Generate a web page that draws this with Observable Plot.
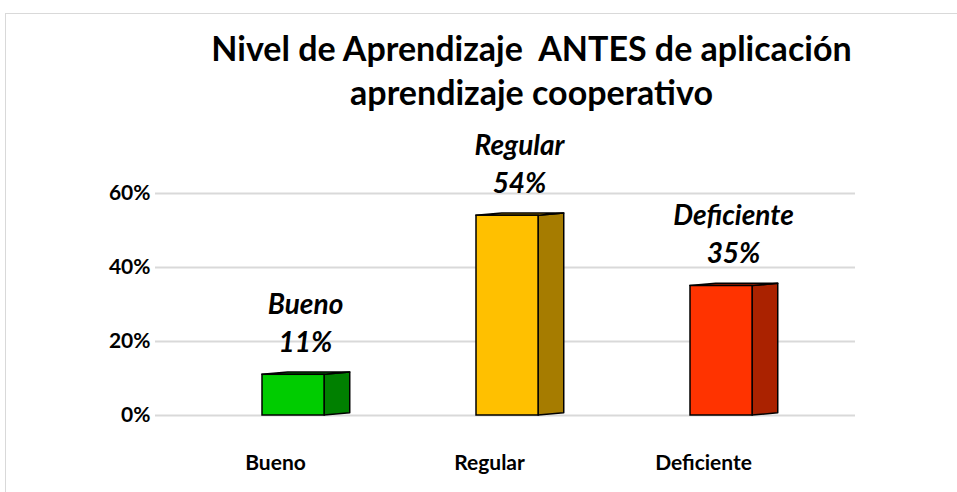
<!DOCTYPE html>
<html>
<head>
<meta charset="utf-8">
<script src="https://cdn.jsdelivr.net/npm/d3@7"></script>
<script src="https://cdn.jsdelivr.net/npm/@observablehq/plot@0.6"></script>
<style>
  body { margin: 0; background: #fff; width: 957px; height: 492px; overflow: hidden; position: relative; font-family: Lato, "Open Sans", sans-serif; }
  #frame { position: absolute; left: 5px; top: 13px; width: 1000px; height: 600px; border-left: 1.5px solid #d9d9d9; border-top: 1.5px solid #d9d9d9; }
  #title { position: absolute; left: 0; top: 26px; width: 957px; padding-left: 106px; box-sizing: border-box; text-align: center; font-weight: bold; font-size: 34px; line-height: 44px; color: #000; }
  #chart { position: absolute; left: 0; top: 115px; }
</style>
</head>
<body>
<div id="frame"></div>
<div id="title">Nivel de Aprendizaje&nbsp; ANTES de aplicación<br>aprendizaje cooperativo</div>
<div id="chart"></div>
<script>
const categories = ["Bueno", "Regular", "Deficiente"];
const values = [0.11, 0.54, 0.35];
const yTicks = [0, 0.2, 0.4, 0.6];

const frontColors = ["#00cc00", "#ffc000", "#ff3300"];
const sideColors = ["#008000", "#a67c00", "#aa2200"];
const topColors = ["#00a000", "#d9a300", "#cc2900"];

const hw = 0.145;   // half width of front face (x units)
const depth = 0.12; // depth of side face (x units)
const lift = 0.006; // vertical lift of the back edge (y units)

const pct = d3.format(".0%");
const rows = categories.map((c, i) => ({c, i, v: values[i]}));

const sideFaces = rows.flatMap(r => [
  {c: r.c, i: r.i, x: r.i + hw, y1: 0, y2: r.v},
  {c: r.c, i: r.i, x: r.i + hw + depth, y1: lift, y2: r.v + lift}
]);
const topFaces = rows.flatMap(r => [
  {c: r.c, i: r.i, x: r.i - hw, y1: r.v, y2: r.v},
  {c: r.c, i: r.i, x: r.i - hw + depth, y1: r.v, y2: r.v + lift},
  {c: r.c, i: r.i, x: r.i + hw, y1: r.v, y2: r.v + lift},
  {c: r.c, i: r.i, x: r.i + hw + depth, y1: r.v + lift, y2: r.v + lift}
]);

const chart = Plot.plot({
  width: 957,
  height: 377,
  marginLeft: 155,
  marginRight: 102,
  marginTop: 78,
  marginBottom: 77,
  style: {fontFamily: "Lato, 'Open Sans', sans-serif", fontSize: "21px", fontWeight: "bold", color: "#000", background: "transparent"},
  x: {domain: [-0.645, 2.626], axis: null},
  y: {domain: [0, 0.6], axis: null},
  marks: [
    Plot.ruleY(yTicks, {stroke: "#d9d9d9", strokeWidth: 2}),
    Plot.text(yTicks, {y: d => d, text: d => pct(d), frameAnchor: "left", textAnchor: "end", dx: -5, fontSize: 21, fontWeight: "bold", fill: "#000"}),
    Plot.areaY(sideFaces, {x: "x", y1: "y1", y2: "y2", z: "c", fill: d => sideColors[d.i], stroke: "#000", strokeWidth: 1.5, strokeLinejoin: "round"}),
    Plot.areaY(topFaces, {x: "x", y1: "y1", y2: "y2", z: "c", fill: d => topColors[d.i], stroke: "#000", strokeWidth: 1.5, strokeLinejoin: "round"}),
    Plot.rect(rows, {x1: r => r.i - hw, x2: r => r.i + hw, y1: 0, y2: "v", fill: r => frontColors[r.i], stroke: "#000", strokeWidth: 1.5}),
    Plot.text(rows, {x: "i", y: "v", text: "c", dx: 12, dy: -70, fontSize: 28, fontStyle: "italic", fontWeight: "bold", fill: "#000"}),
    Plot.text(rows, {x: "i", y: "v", text: r => pct(r.v), dx: 12, dy: -32, fontSize: 28, fontStyle: "italic", fontWeight: "bold", fill: "#000"}),
    Plot.text(rows, {x: "i", y: 0, text: "c", dx: -18, dy: 48, fontSize: 21, fontWeight: "bold", fill: "#000"})
  ]
});
document.getElementById("chart").appendChild(chart);
</script>
</body>
</html>
